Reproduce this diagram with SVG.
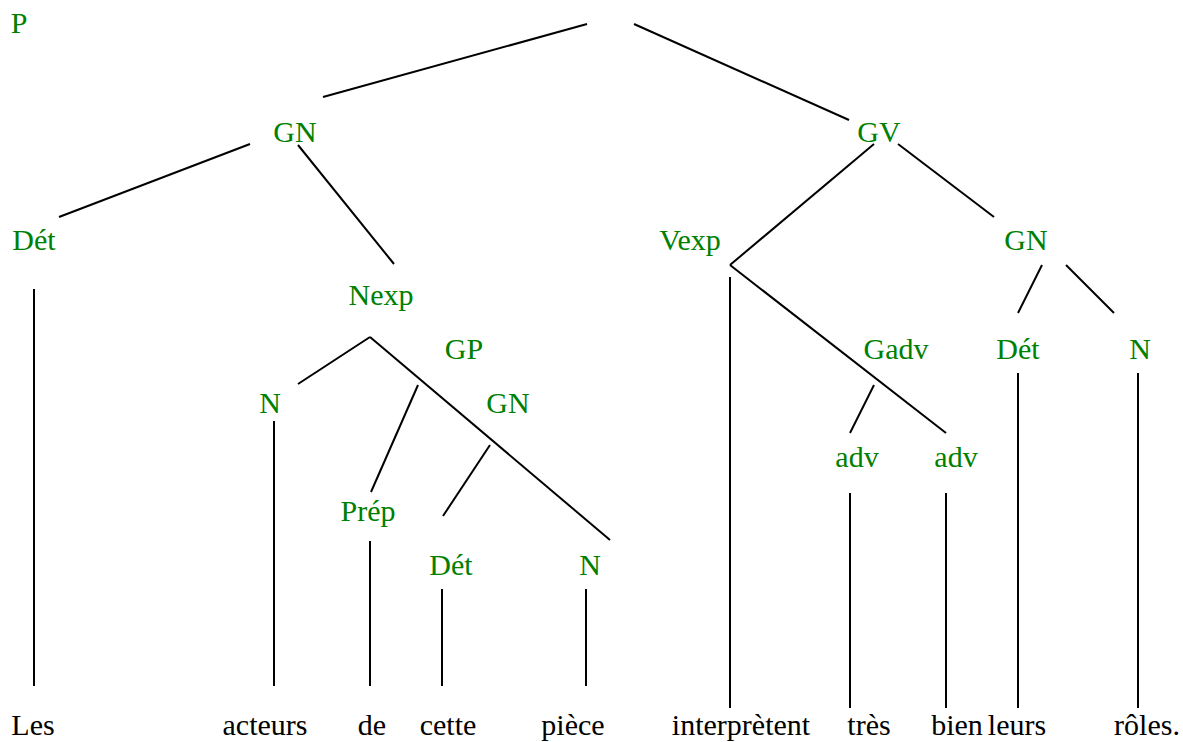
<svg xmlns="http://www.w3.org/2000/svg" width="1183" height="742" viewBox="0 0 1183 742">
  <defs>
    <style>
      .cat { fill: #008000; text-anchor: middle; }
      .word { fill: #000000; text-anchor: middle; }
      .edges line { stroke: #000000; stroke-width: 2; }
    </style>
  </defs>
  <rect width="1183" height="742" fill="#ffffff"/>

  <!-- connectors -->
  <g class="edges" id="edges">
    <line x1="587" y1="24" x2="323" y2="97"/>
    <line x1="634" y1="24" x2="849" y2="120"/>
    <line x1="250" y1="144" x2="59" y2="217"/>
    <line x1="298" y1="145" x2="394" y2="264"/>
    <line x1="34" y1="289" x2="34" y2="686"/>
    <line x1="370" y1="337" x2="298" y2="384"/>
    <line x1="370" y1="337" x2="610" y2="540"/>
    <line x1="418" y1="385" x2="371" y2="492"/>
    <line x1="490" y1="445" x2="443" y2="516"/>
    <line x1="274" y1="421" x2="274" y2="686"/>
    <line x1="370" y1="541" x2="370" y2="686"/>
    <line x1="442" y1="589" x2="442" y2="686"/>
    <line x1="586" y1="589" x2="586" y2="686"/>
    <line x1="874" y1="144" x2="730" y2="265"/>
    <line x1="898" y1="144" x2="994" y2="217"/>
    <line x1="730" y1="277" x2="730" y2="708"/>
    <line x1="730" y1="265" x2="946" y2="433"/>
    <line x1="874" y1="385" x2="850" y2="433"/>
    <line x1="850" y1="493" x2="850" y2="708"/>
    <line x1="946" y1="493" x2="946" y2="708"/>
    <line x1="1042" y1="265" x2="1018" y2="313"/>
    <line x1="1066" y1="265" x2="1114" y2="313"/>
    <line x1="1018" y1="373" x2="1018" y2="708"/>
    <line x1="1138" y1="373" x2="1138" y2="708"/>
  </g>

  <!-- category labels -->
  <g id="n-P"><text class="cat" font-family="Liberation Serif" font-size="30" x="19" y="33">P</text></g>
  <g id="n-GN1"><text class="cat" font-family="Liberation Serif" font-size="30" x="295" y="142">GN</text></g>
  <g id="n-GV"><text class="cat" font-family="Liberation Serif" font-size="30" x="879" y="142">GV</text></g>
  <g id="n-Det1"><text class="cat" font-family="Liberation Serif" font-size="30" x="34" y="250">Dét</text></g>
  <g id="n-Nexp"><text class="cat" font-family="Liberation Serif" font-size="30" x="381" y="305">Nexp</text></g>
  <g id="n-Vexp"><text class="cat" font-family="Liberation Serif" font-size="30" x="690" y="250">Vexp</text></g>
  <g id="n-GN3"><text class="cat" font-family="Liberation Serif" font-size="30" x="1026" y="250">GN</text></g>
  <g id="n-GP"><text class="cat" font-family="Liberation Serif" font-size="30" x="464" y="359">GP</text></g>
  <g id="n-Gadv"><text class="cat" font-family="Liberation Serif" font-size="30" x="896" y="359">Gadv</text></g>
  <g id="n-Det3"><text class="cat" font-family="Liberation Serif" font-size="30" x="1018" y="359">Dét</text></g>
  <g id="n-N3"><text class="cat" font-family="Liberation Serif" font-size="30" x="1140" y="359">N</text></g>
  <g id="n-N1"><text class="cat" font-family="Liberation Serif" font-size="30" x="270" y="413">N</text></g>
  <g id="n-GN2"><text class="cat" font-family="Liberation Serif" font-size="30" x="508" y="413">GN</text></g>
  <g id="n-adv1"><text class="cat" font-family="Liberation Serif" font-size="30" x="857" y="467">adv</text></g>
  <g id="n-adv2"><text class="cat" font-family="Liberation Serif" font-size="30" x="956" y="467">adv</text></g>
  <g id="n-Prep"><text class="cat" font-family="Liberation Serif" font-size="30" x="368" y="521">Prép</text></g>
  <g id="n-Det2"><text class="cat" font-family="Liberation Serif" font-size="30" x="451" y="575">Dét</text></g>
  <g id="n-N2"><text class="cat" font-family="Liberation Serif" font-size="30" x="590" y="575">N</text></g>

  <!-- sentence words -->
  <g id="w-les"><text class="word" font-family="Liberation Serif" font-size="30" x="33" y="735">Les</text></g>
  <g id="w-acteurs"><text class="word" font-family="Liberation Serif" font-size="30" x="265" y="735">acteurs</text></g>
  <g id="w-de"><text class="word" font-family="Liberation Serif" font-size="30" x="372" y="735">de</text></g>
  <g id="w-cette"><text class="word" font-family="Liberation Serif" font-size="30" x="448" y="735">cette</text></g>
  <g id="w-piece"><text class="word" font-family="Liberation Serif" font-size="30" x="573" y="735">pièce</text></g>
  <g id="w-interpretent"><text class="word" font-family="Liberation Serif" font-size="30" x="741" y="735">interprètent</text></g>
  <g id="w-tres"><text class="word" font-family="Liberation Serif" font-size="30" x="869" y="735">très</text></g>
  <g id="w-bien"><text class="word" font-family="Liberation Serif" font-size="30" x="957" y="735">bien</text></g>
  <g id="w-leurs"><text class="word" font-family="Liberation Serif" font-size="30" x="1017" y="735">leurs</text></g>
  <g id="w-roles"><text class="word" font-family="Liberation Serif" font-size="30" x="1147" y="735">rôles.</text></g>
</svg>
